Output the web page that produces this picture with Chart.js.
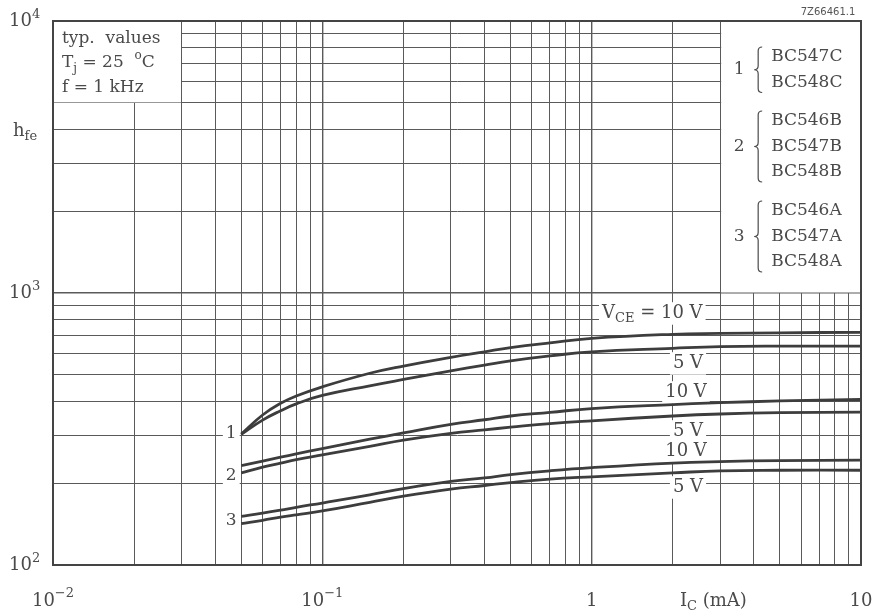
<!DOCTYPE html>
<html><head><meta charset="utf-8">
<script src="https://cdn.jsdelivr.net/npm/chart.js@4"></script>
<style>html,body{margin:0;padding:0;background:#fff}canvas{display:block}</style>
</head><body>
<canvas id="c" width="872" height="616"></canvas>
<script>
// ---- data ----
const currentMa = [0.05, 0.06, 0.07, 0.08, 0.1, 0.15, 0.2, 0.3, 0.4, 0.5, 0.7, 1, 2, 3, 5, 10];
const hfe1Vce10 = [303, 356, 393, 418, 452, 507, 539, 580, 608, 630, 656, 681, 705, 710, 714, 717];
const hfe1Vce5  = [302, 341, 369, 391, 420, 456, 481, 517, 543, 563, 587, 608, 626, 635, 638, 638];
const hfe2Vce10 = [232, 241, 249, 256, 268, 290, 306, 329, 342, 353, 364, 376, 389, 395, 401, 406];
const hfe2Vce5  = [218, 229, 237, 244, 254, 273, 288, 305, 314, 321, 331, 339, 353, 359, 363, 365];
const hfe3Vce10 = [151, 155, 159, 163, 169, 181, 191, 203, 209, 215, 222, 228, 237, 240, 242, 243];
const hfe3Vce5  = [142, 146, 150, 153, 158, 170, 179, 190, 196, 201, 207, 211, 218, 222, 223, 223];

const xTickValues = [0.01, 0.1, 1, 10];
const xTickLabels = [['10', '\u22122'], ['10', '\u22121'], ['1', ''], ['10', '']];
const yTickValues = [100, 1000, 10000];
const yTickLabels = [['10', '2'], ['10', '3'], ['10', '4']];
const xGridValues = [0.01,0.02,0.03,0.04,0.05,0.06,0.07,0.08,0.09,0.1,0.2,0.3,0.4,0.5,0.6,0.7,0.8,0.9,1,2,3,4,5,6,7,8,9,10];
const yGridValues = [100,200,300,400,500,600,700,800,900,1000,2000,3000,4000,5000,6000,7000,8000,9000,10000];

const curveNumbers = ['1', '2', '3'];
const vceLabels = ['10 V', '5 V'];
const legendGroup1 = ['BC547C', 'BC548C'];
const legendGroup2 = ['BC546B', 'BC547B', 'BC548B'];
const legendGroup3 = ['BC546A', 'BC547A', 'BC548A'];
const conditionsLines = ['typ.  values', 'Tj = 25 oC', 'f = 1 kHz'];
const figureCode = '7Z66461.1';

// ---- styling ----
const INK = '#3d3d3d';
const TXT = '#4a4a4a';
const GRID = '#5a5a5a';
const SERIF = '"DejaVu Serif", "Liberation Serif", serif';

function ds(label, arr) {
  return {
    label,
    data: currentMa.map((x, i) => ({ x, y: arr[i] })),
    borderColor: INK, borderWidth: 2.8, pointRadius: 0,
    fill: false, tension: 0.45
  };
}

function drawRich(ctx, parts, x, y, size, align, bg) {
  const fontFor = p => `${(p.sub || p.sup) ? Math.round(size * 0.72) : size}px ${SERIF}`;
  let w = 0;
  parts.forEach(p => { ctx.font = fontFor(p); p._w = ctx.measureText(p.t).width; w += p._w; });
  let sx = align === 'center' ? x - w / 2 : align === 'right' ? x - w : x;
  if (bg) {
    ctx.fillStyle = '#fff';
    ctx.fillRect(sx - 3, y - size * 0.6, w + 6, size * 1.25);
  }
  ctx.fillStyle = TXT;
  ctx.textBaseline = 'middle';
  ctx.textAlign = 'left';
  let cx = sx;
  parts.forEach(p => {
    ctx.font = fontFor(p);
    const dy = p.sub ? size * 0.33 : p.sup ? -size * 0.4 : 0;
    ctx.fillText(p.t, cx, y + dy);
    cx += p._w;
  });
}

function drawBrace(ctx, x, y1, y2) {
  const w = 4, ym = (y1 + y2) / 2;
  ctx.beginPath();
  ctx.moveTo(x + w, y1);
  ctx.quadraticCurveTo(x, y1, x, y1 + w);
  ctx.lineTo(x, ym - w);
  ctx.quadraticCurveTo(x, ym, x - w, ym);
  ctx.quadraticCurveTo(x, ym, x, ym + w);
  ctx.lineTo(x, y2 - w);
  ctx.quadraticCurveTo(x, y2, x + w, y2);
  ctx.strokeStyle = TXT; ctx.lineWidth = 1.2;
  ctx.stroke();
}

const decorPlugin = {
  id: 'decor',
  beforeDatasetsDraw(chart) {
    const { ctx, chartArea: a, scales: { x, y } } = chart;
    ctx.save();
    // conditions box (top-left) and type legend box (top-right) blank out the grid
    const bx = x.getPixelForValue(0.03), by = y.getPixelForValue(5000);
    ctx.fillStyle = '#fff';
    ctx.fillRect(a.left + 1, a.top + 1, bx - a.left - 1.5, by - a.top - 1.5);
    const lx = x.getPixelForValue(3), ly = y.getPixelForValue(1000);
    ctx.fillRect(lx + 1, a.top + 1, a.right - lx - 2, ly - a.top - 1.5);

    // conditions text
    const L = a.left + 9;
    drawRich(ctx, [{ t: conditionsLines[0] }], L, a.top + 18, 17, 'left');
    drawRich(ctx, [{ t: 'T' }, { t: 'j', sub: true }, { t: ' = 25  ' }, { t: 'o', sup: true }, { t: 'C' }], L, a.top + 42, 17, 'left');
    drawRich(ctx, [{ t: conditionsLines[2] }], L, a.top + 67, 17, 'left');

    // legend of type groups
    const numX = lx + 19, brX = lx + 38, txX = lx + 51;
    const groups = [legendGroup1, legendGroup2, legendGroup3];
    const groupTop = [57, 121, 211];
    groups.forEach((g, gi) => {
      const ys = g.map((_, i) => groupTop[gi] + i * 25.5);
      ys.forEach((yy, i) => drawRich(ctx, [{ t: g[i] }], txX, yy, 17, 'left'));
      const ym = (ys[0] + ys[ys.length - 1]) / 2;
      drawRich(ctx, [{ t: curveNumbers[gi] }], numX, ym, 17, 'center');
      drawBrace(ctx, brX, ys[0] - 10, ys[ys.length - 1] + 10);
    });

    // curve number labels at left end
    const cx = x.getPixelForValue(0.05) - 10;
    drawRich(ctx, [{ t: curveNumbers[0] }], cx, 434, 17, 'center', true);
    drawRich(ctx, [{ t: curveNumbers[1] }], cx, 476, 17, 'center', true);
    drawRich(ctx, [{ t: curveNumbers[2] }], cx, 521, 17, 'center', true);

    // V_CE labels
    drawRich(ctx, [{ t: 'V' }, { t: 'CE', sub: true }, { t: ' = ' + vceLabels[0] }], 602, 313, 18, 'left', true);
    drawRich(ctx, [{ t: vceLabels[1] }], 688, 363, 18, 'center', true);
    drawRich(ctx, [{ t: vceLabels[0] }], 686, 392, 18, 'center', true);
    drawRich(ctx, [{ t: vceLabels[1] }], 688, 431, 18, 'center', true);
    drawRich(ctx, [{ t: vceLabels[0] }], 686, 451, 18, 'center', true);
    drawRich(ctx, [{ t: vceLabels[1] }], 688, 487, 18, 'center', true);
    ctx.restore();
  },
  afterDatasetsDraw(chart) {
    const { ctx, chartArea: a } = chart;
    ctx.save();
    ctx.strokeStyle = '#444';
    ctx.lineWidth = 2;
    ctx.strokeRect(a.left, a.top, a.right - a.left, a.bottom - a.top);
    ctx.restore();
  },
  afterDraw(chart) {
    const { ctx, chartArea: a, scales: { x, y } } = chart;
    ctx.save();
    xTickValues.forEach((v, i) => {
      const [b, e] = xTickLabels[i];
      const parts = [{ t: b }];
      if (e) parts.push({ t: e, sup: true });
      drawRich(ctx, parts, x.getPixelForValue(v), a.bottom + 36, 18, 'center');
    });
    drawRich(ctx, [{ t: 'I' }, { t: 'C', sub: true }, { t: ' (mA)' }], 680, a.bottom + 36, 18, 'left');
    yTickValues.forEach((v, i) => {
      const [b, e] = yTickLabels[i];
      drawRich(ctx, [{ t: b }, { t: e, sup: true }], 9, y.getPixelForValue(v) + 0.5, 18, 'left');
    });
    drawRich(ctx, [{ t: 'h' }, { t: 'fe', sub: true }], 13, 131, 18, 'left');
    ctx.font = '10px "DejaVu Sans", sans-serif';
    ctx.fillStyle = '#555';
    ctx.textAlign = 'center'; ctx.textBaseline = 'middle';
    ctx.fillText(figureCode, 828, 12);
    ctx.restore();
  }
};

new Chart(document.getElementById('c'), {
  type: 'line',
  data: {
    datasets: [
      ds('1, VCE = 10 V', hfe1Vce10), ds('1, VCE = 5 V', hfe1Vce5),
      ds('2, VCE = 10 V', hfe2Vce10), ds('2, VCE = 5 V', hfe2Vce5),
      ds('3, VCE = 10 V', hfe3Vce10), ds('3, VCE = 5 V', hfe3Vce5)
    ]
  },
  options: {
    responsive: false,
    animation: false,
    devicePixelRatio: 1,
    layout: { padding: { left: 53, right: 11, top: 21, bottom: 51 } },
    plugins: { legend: { display: false }, tooltip: { enabled: false } },
    scales: {
      x: {
        type: 'logarithmic', min: 0.01, max: 10,
        afterBuildTicks: s => { s.ticks = xGridValues.map(v => ({ value: v })); },
        ticks: { display: false },
        grid: { color: GRID, lineWidth: c => (c.tick && xTickValues.includes(c.tick.value)) ? 1.4 : 1, drawTicks: false },
        border: { color: '#444', width: 2 }
      },
      y: {
        type: 'logarithmic', min: 100, max: 10000,
        afterBuildTicks: s => { s.ticks = yGridValues.map(v => ({ value: v })); },
        ticks: { display: false },
        grid: { color: GRID, lineWidth: c => (c.tick && yTickValues.includes(c.tick.value)) ? 1.4 : 1, drawTicks: false },
        border: { color: '#444', width: 2 }
      }
    }
  },
  plugins: [decorPlugin]
});
</script>
</body></html>
